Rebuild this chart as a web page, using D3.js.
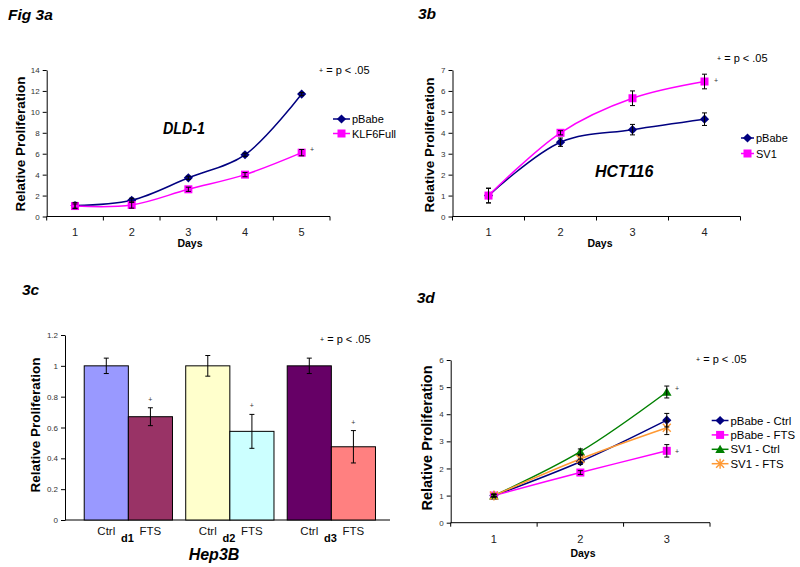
<!DOCTYPE html>
<html><head><meta charset="utf-8">
<script src="https://cdn.jsdelivr.net/npm/d3@7"></script>
<style>body{margin:0;background:#fff}svg{display:block}text{font-family:"Liberation Sans",Arial,Helvetica,sans-serif}</style>
</head><body><svg id="c" width="800" height="567"></svg>
<script>
// ---------- data ----------
// Fig 3a (DLD-1)
const daysA = [1, 2, 3, 4, 5];
const pBabeA = [1.05, 1.55, 3.7, 5.9, 11.7];
const pBabeAErr = [0.3, 0.2, 0.15, 0.15, 0.15];
const klf6FullA = [1.0, 1.1, 2.6, 4.0, 6.1];
const klf6FullAErr = [0.2, 0.3, 0.2, 0.2, 0.3];
const yTicksA = [0, 2, 4, 6, 8, 10, 12, 14];
// Fig 3b (HCT116)
const daysB = [1, 2, 3, 4];
const pBabeB = [1.0, 3.55, 4.15, 4.65];
const pBabeBErr = [0.35, 0.2, 0.25, 0.3];
const sv1B = [1.0, 4.0, 5.65, 6.45];
const sv1BErr = [0.35, 0.1, 0.35, 0.35];
const yTicksB = [0, 1, 2, 3, 4, 5, 6, 7];
// Fig 3c (Hep3B)
const groupsC = ["d1", "d2", "d3"];
const treatmentsC = ["Ctrl", "FTS"];
const ctrlC = [1.0, 1.0, 1.0];
const ctrlCErr = [0.05, 0.067, 0.05];
const ftsC = [0.67, 0.575, 0.475];
const ftsCErr = [0.058, 0.11, 0.105];
const yTicksC = [0, 0.2, 0.4, 0.6, 0.8, 1, 1.2];
// Fig 3d
const daysD = [1, 2, 3];
const pBabeCtrlD = [1.0, 2.25, 3.78];
const pBabeCtrlDErr = [0.05, 0.1, 0.25];
const pBabeFtsD = [1.0, 1.85, 2.65];
const pBabeFtsDErr = [0.05, 0.07, 0.23];
const sv1CtrlD = [1.0, 2.62, 4.82];
const sv1CtrlDErr = [0.05, 0.1, 0.22];
const sv1FtsD = [1.0, 2.35, 3.5];
const sv1FtsDErr = [0.05, 0.12, 0.25];
const yTicksD = [0, 1, 2, 3, 4, 5, 6];

// ---------- styles ----------
const NAVY = "#000080", MAG = "#FF00FF", GREEN = "#008000", ORANGE = "#FF9933";
const barColorsC = [["#9999FF", "#993366"], ["#FFFFCC", "#CCFFFF"], ["#660066", "#FF8080"]];

const svg = d3.select("#c");
svg.append("rect").attr("width", 800).attr("height", 567).attr("fill", "#fff");

function txt(x, y, s, o = {}) {
  return svg.append("text").attr("x", x).attr("y", y).text(s)
    .attr("font-size", o.size || 11).attr("font-weight", o.bold ? "bold" : null)
    .attr("font-style", o.italic ? "italic" : null)
    .attr("text-anchor", o.anchor || "start").attr("fill", o.fill || "#000");
}
function ytitle(cx, cy, size) {
  svg.append("text").attr("transform", `translate(${cx},${cy}) rotate(-90)`)
    .attr("text-anchor", "middle").attr("dy", "0.36em")
    .attr("font-size", size).attr("font-weight", "bold").text("Relative Proliferation");
}
function pnote(x, y) {
  const t = svg.append("text").attr("x", x).attr("y", y).attr("font-size", 11).attr("fill", "#000");
  t.append("tspan").attr("font-size", 7).attr("dy", -1).text("+");
  t.append("tspan").attr("dy", 1).text(" = p < .05");
}
function plus(x, y) { txt(x, y, "+", { size: 7, anchor: "middle", fill: "#333" }); }

function marker(g, type, cx, cy, color) {
  if (type === "diamond") {
    const r = 4.6;
    g.append("path").attr("d", `M${cx},${cy - r}L${cx + r},${cy}L${cx},${cy + r}L${cx - r},${cy}Z`).attr("fill", color);
  } else if (type === "square") {
    const r = 4;
    g.append("rect").attr("x", cx - r).attr("y", cy - r).attr("width", 2 * r).attr("height", 2 * r).attr("fill", color);
  } else if (type === "triangle") {
    g.append("path").attr("d", `M${cx},${cy - 4.5}L${cx + 4.8},${cy + 3.8}L${cx - 4.8},${cy + 3.8}Z`).attr("fill", color);
  } else if (type === "star") {
    const r = 4;
    g.append("path").attr("d", `M${cx - r},${cy - r}L${cx + r},${cy + r}M${cx - r},${cy + r}L${cx + r},${cy - r}M${cx},${cy - r - 1}L${cx},${cy + r + 1}`)
      .attr("stroke", color).attr("stroke-width", 1.4).attr("fill", "none");
  }
}

function yAxis(x0, y, ticks, fmt) {
  const g = svg.append("g").attr("transform", `translate(${x0},0)`)
    .call(d3.axisLeft(y).tickValues(ticks).tickSize(4).tickSizeOuter(0).tickPadding(3).tickFormat(fmt || (d => d)));
  g.select(".domain").attr("stroke", "#000");
  g.selectAll(".tick line").attr("stroke", "#000");
  g.selectAll(".tick text").attr("font-size", 8).attr("fill", "#333").attr("font-family", '"Liberation Sans",Arial,sans-serif');
  return g;
}

function errBar(g, cx, y, v, e) {
  const yt = y(v + e), yb = y(v - e);
  g.append("line").attr("x1", cx).attr("x2", cx).attr("y1", yt).attr("y2", yb).attr("stroke", "#000").attr("stroke-width", 1);
  [yt, yb].forEach(yy => g.append("line").attr("x1", cx - 2.5).attr("x2", cx + 2.5).attr("y1", yy).attr("y2", yy).attr("stroke", "#000").attr("stroke-width", 1));
}

function linePanel(o) {
  const x = d3.scaleBand().domain(o.days).range([o.x0, o.x1]);
  const y = d3.scaleLinear().domain([0, o.yMax]).range([o.yB, o.yT]);
  const bw = x.bandwidth();
  yAxis(o.x0, y, o.yTicks);
  const ax = svg.append("g");
  ax.append("line").attr("x1", o.x0).attr("x2", o.x1).attr("y1", o.yB).attr("y2", o.yB).attr("stroke", "#000");
  [...o.days.map(d => x(d)), o.x1].forEach(v =>
    ax.append("line").attr("x1", v).attr("x2", v).attr("y1", o.yB).attr("y2", o.yB + 4).attr("stroke", "#000"));
  o.days.forEach(d => txt(x(d) + bw / 2, o.yB + o.labelDy, String(d), { size: 11, anchor: "middle", fill: "#222" }));
  txt(o.daysX, o.daysY, "Days", { size: 10.5, bold: true, anchor: "middle" });
  const g = svg.append("g");
  const line = d3.line().curve(o.curve);
  o.series.forEach(s => {
    const pts = o.days.map((d, i) => [x(d) + bw / 2, y(s.values[i])]);
    g.append("path").attr("d", line(pts)).attr("fill", "none").attr("stroke", s.color).attr("stroke-width", 1.5);
  });
  o.series.forEach(s => {
    o.days.forEach((d, i) => marker(g, s.marker, x(d) + bw / 2, y(s.values[i]), s.color));
  });
  o.series.forEach(s => {
    o.days.forEach((d, i) => errBar(g, x(d) + bw / 2, y, s.values[i], s.err[i]));
  });
  // legend
  o.series.forEach((s, i) => {
    const ly = o.legY + i * o.legDy;
    svg.append("line").attr("x1", o.legX0).attr("x2", o.legX1).attr("y1", ly).attr("y2", ly).attr("stroke", s.color).attr("stroke-width", 1.5);
    marker(svg, s.marker, (o.legX0 + o.legX1) / 2, ly, s.color);
    txt(o.legX1 + 2, ly + 4, s.name, { size: o.legSize || 11 });
  });
  return { x, y, bw };
}

// ---------- Fig 3a ----------
txt(8, 20, "Fig 3a", { size: 15.5, bold: true, italic: true });
ytitle(20, 144, 13.5);
const pa = linePanel({
  days: daysA, x0: 46.7, x1: 330, yB: 216.5, yT: 70, yMax: 14, yTicks: yTicksA,
  labelDy: 19, daysX: 190, daysY: 247, curve: d3.curveCatmullRom.alpha(0.5),
  series: [
    { name: "pBabe", values: pBabeA, err: pBabeAErr, color: NAVY, marker: "diamond" },
    { name: "KLF6Full", values: klf6FullA, err: klf6FullAErr, color: MAG, marker: "square" }
  ],
  legX0: 333, legX1: 350, legY: 119, legDy: 14.5
});
txt(163, 133.5, "DLD-1", { size: 16, bold: true, italic: true })
  .attr("textLength", 42).attr("lengthAdjust", "spacingAndGlyphs");
pnote(319, 74);
plus(312, 152);

// ---------- Fig 3b ----------
txt(418, 19, "3b", { size: 15.5, bold: true, italic: true });
ytitle(429, 145, 13.5);
const pb = linePanel({
  days: daysB, x0: 452.5, x1: 740.5, yB: 216.5, yT: 70, yMax: 7, yTicks: yTicksB,
  labelDy: 19, daysX: 600, daysY: 247, curve: d3.curveCatmullRom.alpha(0.5),
  series: [
    { name: "pBabe", values: pBabeB, err: pBabeBErr, color: NAVY, marker: "diamond" },
    { name: "SV1", values: sv1B, err: sv1BErr, color: MAG, marker: "square" }
  ],
  legX0: 741, legX1: 754, legY: 138, legDy: 15.5
});
txt(595, 176.7, "HCT116", { size: 16, bold: true, italic: true });
pnote(717, 62);
plus(716, 83);

// ---------- Fig 3c ----------
txt(22, 295, "3c", { size: 15.5, bold: true, italic: true });
ytitle(35, 425, 13.5);
{
  const yB = 520, yT = 335;
  const y = d3.scaleLinear().domain([0, 1.2]).range([yB, yT]);
  yAxis(65, y, yTicksC, d => String(+d.toFixed(1)));
  svg.append("line").attr("x1", 65).attr("x2", 390).attr("y1", yB).attr("y2", yB).attr("stroke", "#000");
  const xg = d3.scaleBand().domain(groupsC).range([77.6, 382.1]);
  const xi = d3.scaleBand().domain(treatmentsC).range([0, xg.bandwidth()]).paddingOuter(0.15);
  const g = svg.append("g");
  groupsC.forEach((gr, gi) => {
    const vals = [ctrlC[gi], ftsC[gi]], errs = [ctrlCErr[gi], ftsCErr[gi]];
    treatmentsC.forEach((t, ti) => {
      const bx = xg(gr) + xi(t);
      g.append("rect").attr("x", bx).attr("y", y(vals[ti])).attr("width", xi.bandwidth()).attr("height", yB - y(vals[ti]))
        .attr("fill", barColorsC[gi][ti]).attr("stroke", "#000").attr("stroke-width", 1);
    });
    treatmentsC.forEach((t, ti) => {
      const cx = xg(gr) + xi(t) + xi.bandwidth() / 2;
      errBar(g, cx, y, vals[ti], errs[ti]);
      txt(cx, 535, t, { size: 11.5, anchor: "middle", fill: "#111" });
      if (t === "FTS") plus(cx, y(vals[ti] + errs[ti]) - 6);
    });
    txt(xg(gr) + xg.bandwidth() / 2 - 1, 541.5, gr, { size: 11, bold: true, anchor: "middle" });
  });
  txt(214, 560, "Hep3B", { size: 16, bold: true, italic: true, anchor: "middle" });
  pnote(320, 342.7);
}

// ---------- Fig 3d ----------
txt(416.7, 302.7, "3d", { size: 15.5, bold: true, italic: true });
ytitle(427, 438, 14.5);
const pd = linePanel({
  days: daysD, x0: 450.7, x1: 710, yB: 522.7, yT: 360, yMax: 6, yTicks: yTicksD,
  labelDy: 20.6, daysX: 583, daysY: 556.5, curve: d3.curveCatmullRom.alpha(0.5),
  series: [
    { name: "pBabe - Ctrl", values: pBabeCtrlD, err: pBabeCtrlDErr, color: NAVY, marker: "diamond" },
    { name: "pBabe - FTS", values: pBabeFtsD, err: pBabeFtsDErr, color: MAG, marker: "square" },
    { name: "SV1 - Ctrl", values: sv1CtrlD, err: sv1CtrlDErr, color: GREEN, marker: "triangle" },
    { name: "SV1 - FTS", values: sv1FtsD, err: sv1FtsDErr, color: ORANGE, marker: "star" }
  ],
  legX0: 711.7, legX1: 728.5, legY: 420.5, legDy: 14.4, legSize: 11.4
});
pnote(696, 363.3);
plus(677, 391);
plus(677, 454);
</script></body></html>
